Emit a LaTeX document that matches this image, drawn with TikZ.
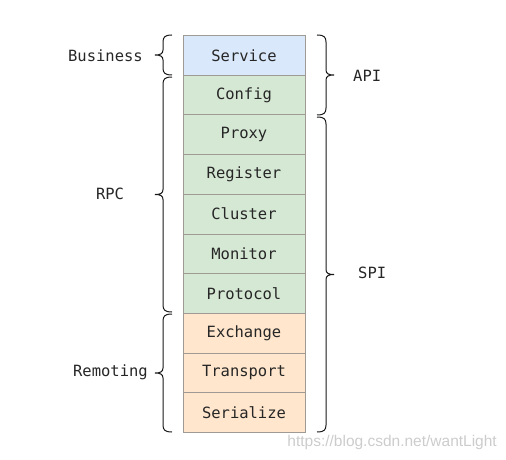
\documentclass[tikz,border=0pt]{standalone}
\usepackage{fontspec}
\setmonofont{DejaVu Sans Mono}
\setsansfont{Liberation Sans}
\definecolor{cblue}{HTML}{DAE8FC}
\definecolor{cgreen}{HTML}{D5E8D4}
\definecolor{corange}{HTML}{FFE6CC}
\definecolor{cborder}{HTML}{A09A94}
\newcommand\leftbrc[2]{%
  \pgfmathsetmacro\ym{(#1+#2)/2}%
  \draw[brc] (172,#1) .. controls (165,#1) and (163,#1+2) .. (163,#1+7) -- (163,\ym-5)
    .. controls (163,\ym-1) and (160,\ym) .. (155,\ym) .. controls (160,\ym) and (163,\ym+1) .. (163,\ym+5)
    -- (163,#2-7) .. controls (163,#2-2) and (165,#2) .. (172,#2);}
\newcommand\rightbrc[2]{%
  \pgfmathsetmacro\ym{(#1+#2)/2}%
  \draw[brc] (317,#1) .. controls (324,#1) and (326,#1+2) .. (326,#1+7) -- (326,\ym-5)
    .. controls (326,\ym-1) and (329,\ym) .. (334,\ym) .. controls (329,\ym) and (326,\ym+1) .. (326,\ym+5)
    -- (326,#2-7) .. controls (326,#2-2) and (324,#2) .. (317,#2);}
\begin{document}
\begin{tikzpicture}[x=1pt,y=-1pt,
  layer/.style={draw=cborder,line width=0.9pt,minimum width=122pt,minimum height=39.7pt,inner sep=0pt,
    font=\ttfamily\fontsize{15.5}{18}\selectfont,text=black!85},
  lbl/.style={font=\ttfamily\fontsize{15.5}{18}\selectfont,text=black!85,inner sep=0pt},
  brc/.style={draw=black!90,line width=1pt},
]
\useasboundingbox (0,0) rectangle (506,460);
\node[layer,fill=cblue] (service) at (244,55.35) {Service};
\node[layer,fill=cgreen] (config) at (244,95.05) {Config};
\node[layer,fill=cgreen] (proxy) at (244,134.75) {Proxy};
\node[layer,fill=cgreen] (register) at (244,174.45) {Register};
\node[layer,fill=cgreen] (cluster) at (244,214.15) {Cluster};
\node[layer,fill=cgreen] (monitor) at (244,253.85) {Monitor};
\node[layer,fill=cgreen] (protocol) at (244,293.55) {Protocol};
\node[layer,fill=corange] (exchange) at (244,333.25) {Exchange};
\node[layer,fill=corange] (transport) at (244,372.95) {Transport};
\node[layer,fill=corange] (serialize) at (244,412.65) {Serialize};
% braces
\leftbrc{35}{75}
\leftbrc{77}{312}
\leftbrc{314}{432}
\rightbrc{35}{115}
\rightbrc{117}{432}
% labels
\node[lbl,anchor=east] (business) at (143,55.5) {Business};
\node[lbl] (rpc) at (110,193.5) {RPC};
\node[lbl,anchor=east] (remoting) at (148,372.5) {Remoting};
\node[lbl,anchor=west] (api) at (353,75.5) {API};
\node[lbl,anchor=west] (spi) at (358,272.5) {SPI};
\node[font=\sffamily\fontsize{15.5}{18}\selectfont,text=black!20,anchor=east,inner sep=0pt] (wm) at (497,442) {https://blog.csdn.net/wantLight};
\end{tikzpicture}
\end{document}
